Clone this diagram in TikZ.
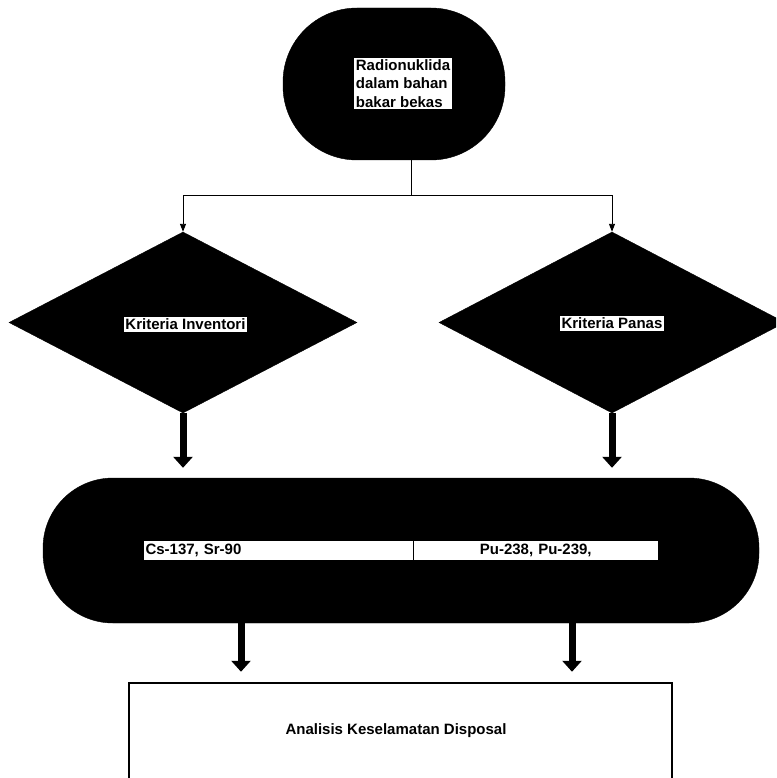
\documentclass[tikz,border=0pt]{standalone}
\usepackage{fontspec}
\setmainfont{Liberation Sans}
\usetikzlibrary{shapes.geometric,arrows.meta}
\begin{document}
\begin{tikzpicture}[x=1pt,y=-1pt,
  blackshape/.style={fill=black, draw=black, inner sep=0pt},
  labelfont/.style={font=\bfseries\fontsize{15}{18.5}\selectfont},
  whitelabel/.style={labelfont, fill=white, inner sep=1.5pt},
  thinarrow/.style={line width=0.9pt, -{Triangle[width=6pt,length=8pt]}},
  thickarrow/.style={line width=7pt, -{Triangle[width=19pt,length=11pt]}, shorten >=10pt}]
\useasboundingbox (0,0) rectangle (776,778);
\clip (0,0) rectangle (776,778);

% shapes
\node[blackshape, rectangle, rounded corners=74pt, minimum width=222pt, minimum height=152pt] (top) at (394,84) {};
\node[blackshape, diamond, minimum width=348pt, minimum height=181pt] (d1) at (183,322.5) {};
\node[blackshape, diamond, minimum width=346pt, minimum height=181pt] (d2) at (612,322.5) {};
\node[blackshape, rectangle, rounded corners=70pt, minimum width=716pt, minimum height=145pt] (mid) at (401,550.5) {};
\node[draw=black, fill=white, line width=2.5pt, rectangle, minimum width=543pt, minimum height=150pt, inner sep=0pt] (box) at (400.5,758) {};

% labels
\node[whitelabel, align=left] (toplabel) at (403,83.5) {Radionuklida\\dalam bahan\\bakar bekas};
\node[whitelabel] (l1) at (185.5,324.5) {Kriteria Inventori};
\node[whitelabel] (l2) at (612,323.5) {Kriteria Panas};
\node[whitelabel, text width=265.5pt, minimum height=19pt, align=left] (cs) at (278.25,550.5) {Cs-137, Sr-90};
\node[whitelabel, text width=241.5pt, minimum height=19pt, align=center] (pu) at (535.75,550.5) {Pu-238, Pu-239,};
\node[labelfont] (anal) at (396,731) {Analisis Keselamatan Disposal};

% connectors
\coordinate (split) at (411,195);
\draw[line width=0.9pt] (top.south -| split) -- (split);
\draw[thinarrow] (split) -| (d1.north);
\draw[thinarrow] (split) -| (d2.north);

\draw[thickarrow] (d1.south) -- (d1.south |- mid.north);
\draw[thickarrow] (d2.south) -- (d2.south |- mid.north);

\coordinate (b1) at (241,623);
\coordinate (b2) at (572,623);
\draw[thickarrow] (mid.south -| b1) -- (box.north -| b1);
\draw[thickarrow] (mid.south -| b2) -- (box.north -| b2);
\end{tikzpicture}
\end{document}
